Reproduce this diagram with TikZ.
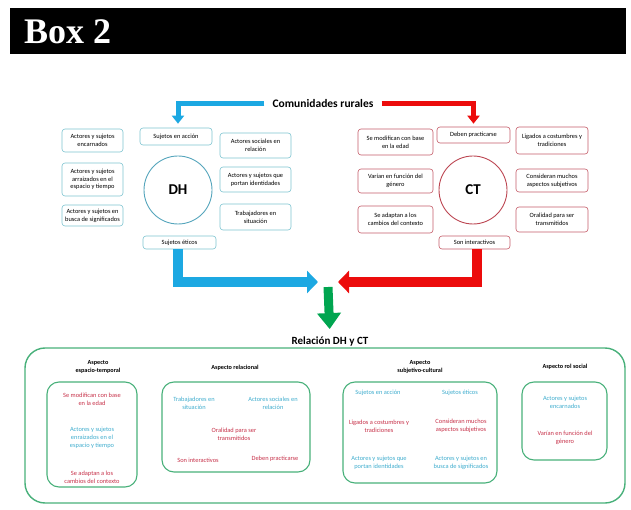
\documentclass[tikz,border=0pt]{standalone}
\usepackage{fontspec}
\setmainfont{Carlito}
\newfontfamily\boxfont{Liberation Serif}
\usetikzlibrary{arrows.meta}
\definecolor{dhblue}{RGB}{28,168,226}
\definecolor{dhline}{RGB}{125,195,208}
\definecolor{dhcirc}{RGB}{85,165,188}
\definecolor{ctred}{RGB}{236,12,12}
\definecolor{ctline}{RGB}{196,92,104}
\definecolor{ctcirc}{RGB}{188,70,82}
\definecolor{garrow}{RGB}{0,165,80}
\definecolor{gframe}{RGB}{72,176,122}
\definecolor{btext}{RGB}{62,172,205}
\definecolor{rtext}{RGB}{198,48,72}
\begin{document}
\begin{tikzpicture}[x=1pt,y=-1pt,
  small/.style={font=\fontsize{6.4}{7.8}\selectfont, align=center, inner sep=1pt},
  dhbox/.style={small, draw=dhline, rounded corners=3pt, line width=0.6pt},
  ctbox/.style={small, draw=ctline, rounded corners=3pt, line width=0.6pt},
  bt/.style={small, text=btext},
  rt/.style={small, text=rtext},
  head/.style={font=\bfseries\fontsize{6.2}{7.8}\selectfont, align=center, inner sep=1pt},
  inbox/.style={draw=gframe, line width=1.1pt, rounded corners=12pt},
  toparrow/.style={line width=5pt, line join=miter, -{Triangle[width=12pt,length=8pt]}},
  bigarrow/.style={line width=10pt, line join=miter, -{Triangle[width=22pt,length=11pt]}},
]
\useasboundingbox (0,0) rectangle (631,510);
% banner
\fill[black] (10,8) rectangle (626,54);
\node[text=white, anchor=west, font=\boxfont\bfseries\fontsize{36}{36}\selectfont, inner sep=0pt] (boxt) at (24,32) {Box 2};

% top title
\node[font=\bfseries\fontsize{11.5}{12}\selectfont, inner sep=0pt] (com) at (323,104) {Comunidades rurales};

% DH side
\node[draw=dhcirc, circle, line width=0.9pt, minimum size=68pt, font=\bfseries\fontsize{15}{15}\selectfont] (dh) at (178,190) {DH};
\node[dhbox, minimum width=61pt, minimum height=23pt] (enc) at (92.5,140.5) {Actores y sujetos\\encarnados};
\node[dhbox, minimum width=61pt, minimum height=33pt] (arr) at (92.5,179.5) {Actores y sujetos\\arraizados en el\\espacio y tiempo};
\node[dhbox, minimum width=61pt, minimum height=21pt] (bus) at (92.5,215.5) {Actores y sujetos en\\busca de significados};
\node[dhbox, minimum width=72pt, minimum height=17pt] (acc) at (176,136.5) {Sujetos en acción};
\node[dhbox, minimum width=71pt, minimum height=25pt] (rel) at (255.5,145.5) {Actores sociales en\\relación};
\node[dhbox, minimum width=71pt, minimum height=25pt] (ide) at (255.5,179.5) {Actores y sujetos que\\portan identidades};
\node[dhbox, minimum width=71pt, minimum height=26pt] (tra) at (255.5,217) {Trabajadores en\\situación};
\node[dhbox, minimum width=73pt, minimum height=13pt] (eti) at (179.5,242.5) {Sujetos éticos};

% CT side
\node[draw=ctcirc, circle, line width=0.9pt, minimum size=68pt, font=\bfseries\fontsize{15}{15}\selectfont] (ct) at (473,190) {CT};
\node[ctbox, minimum width=75pt, minimum height=26pt] (mod) at (395.5,142) {Se modifican con base\\en la edad};
\node[ctbox, minimum width=75pt, minimum height=24pt] (var) at (395.5,181) {Varían en función del\\género};
\node[ctbox, minimum width=75pt, minimum height=27pt] (ada) at (395.5,219.5) {Se adaptan a los\\cambios del contexto};
\node[ctbox, minimum width=73pt, minimum height=16pt] (deb) at (473.5,135) {Deben practicarse};
\node[ctbox, minimum width=72pt, minimum height=27pt] (lig) at (552,140.5) {Ligados a costumbres y\\tradiciones};
\node[ctbox, minimum width=72pt, minimum height=23pt] (con) at (552,180.5) {Consideran muchos\\aspectos subjetivos};
\node[ctbox, minimum width=72pt, minimum height=25pt] (ora) at (552,219.5) {Oralidad para ser\\transmitidos};
\node[ctbox, minimum width=71pt, minimum height=13pt] (son) at (474.5,242.5) {Son interactivos};

% top arrows
\draw[dhblue, toparrow, shorten <=8pt, shorten >=4pt] (com.west) -| ([xshift=2pt]acc.north);
\draw[ctred, toparrow, shorten <=8pt, shorten >=3pt] (com.east) -| (deb.north);

% bottom arrows
\coordinate (btip) at (318,282);
\coordinate (rtip) at (338,282);
\coordinate (gtop) at (328,287);
\draw[dhblue, bigarrow] ([xshift=-1.5pt]eti.south) |- (btip);
\draw[ctred, bigarrow] ([xshift=2.5pt]son.south) |- (rtip);
\node[font=\bfseries\fontsize{11}{12}\selectfont, inner sep=0pt] (rdc) at (330,342) {Relación DH y CT};
\draw[garrow, line width=9pt, -{Triangle[width=23pt,length=16pt]}, shorten >=8pt] (gtop) -- (rdc.north);

% bottom frame
\draw[gframe, line width=1.4pt, rounded corners=20pt] (25,348) rectangle (625,503);
\draw[inbox] (47,382) rectangle (137,487);
\draw[inbox] (162,382) rectangle (310,472);
\draw[inbox] (343,382) rectangle (497,483);
\draw[inbox] (522,382) rectangle (607,460);

\node[head] (h1) at (98,367) {Aspecto\\espacio-temporal};
\node[head] (h2) at (235,368) {Aspecto relacional};
\node[head] (h3) at (420,367) {Aspecto\\subjetivo-cultural};
\node[head] (h4) at (565,367) {Aspecto rol social};

\node[rt] (a1) at (92,399) {Se modifican con base\\en la edad};
\node[bt] (a2) at (92,438) {Actores y sujetos\\enraizados en el\\espacio y tiempo};
\node[rt] (a3) at (92,477) {Se adaptan a los\\cambios del contexto};

\node[bt] (b1) at (194,403) {Trabajadores en\\situación};
\node[bt] (b2) at (273,403) {Actores sociales en\\relación};
\node[rt] (b3) at (234,434) {Oralidad para ser\\transmitidos};
\node[rt] (b4) at (198,460) {Son interactivos};
\node[rt] (b5) at (275,459) {Deben practicarse};

\node[bt] (c1) at (378,393) {Sujetos en acción};
\node[bt] (c2) at (460,393) {Sujetos éticos};
\node[rt] (c3) at (379,426) {Ligados a costumbres y\\tradiciones};
\node[rt] (c4) at (461,426) {Consideran muchos\\aspectos subjetivos};
\node[bt] (c5) at (379,463) {Actores y sujetos que\\portan identidades};
\node[bt] (c6) at (461,463) {Actores y sujetos en\\busca de significados};

\node[bt] (d1) at (565,402) {Actores y sujetos\\encarnados};
\node[rt] (d2) at (565,438) {Varían en función del\\género};
\end{tikzpicture}
\end{document}
